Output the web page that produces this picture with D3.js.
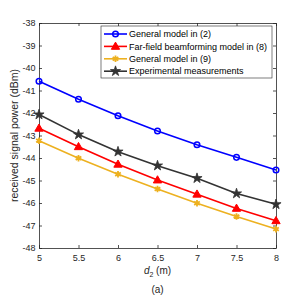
<!DOCTYPE html>
<html>
<head>
<meta charset="utf-8">
<script src="https://cdn.jsdelivr.net/npm/d3@7"></script>
<style>
  body { margin: 0; background: #fff; }
  text { font-family: "Liberation Sans", Arial, sans-serif; }
</style>
</head>
<body>
<div id="chart"></div>
<script>
// Data
var distances = [5, 5.5, 6, 6.5, 7, 7.5, 8];
var generalModel2 = [-40.59, -41.39, -42.12, -42.8, -43.41, -43.97, -44.53];
var farFieldModel8 = [-42.68, -43.5, -44.28, -44.98, -45.61, -46.24, -46.79];
var generalModel9 = [-43.23, -44.01, -44.72, -45.38, -46.01, -46.6, -47.16];
var measurements = [-42.07, -42.96, -43.72, -44.34, -44.9, -45.58, -46.06];
var seriesNames = ["General model in (2)", "Far-field beamforming model in (8)", "General model in (9)", "Experimental measurements"];
var xTickValues = [5, 5.5, 6, 6.5, 7, 7.5, 8];
var yTickValues = [-48, -47, -46, -45, -44, -43, -42, -41, -40, -39, -38];

var W = 306, H = 298;
var margin = { left: 39, top: 23, right: 30, bottom: 50 };
var width = 276 - 39, height = 248 - 23;

var series = [
  { name: seriesNames[0], values: generalModel2, color: "#0000ff", marker: "circle" },
  { name: seriesNames[1], values: farFieldModel8, color: "#ff0000", marker: "triangle" },
  { name: seriesNames[2], values: generalModel9, color: "#edb120", marker: "asterisk" },
  { name: seriesNames[3], values: measurements, color: "#333333", marker: "star" }
];

const svg = d3.select("#chart").append("svg")
  .attr("width", W).attr("height", H)
  .append("g")
  .attr("transform", `translate(${margin.left},${margin.top})`);

const xScale = d3.scaleLinear().domain([5, 8]).range([0, width]);
const yScale = d3.scaleLinear().domain([-48, -38]).range([height, 0]);

var axisColor = "#262626";

// box (top/right axes without labels)
svg.append("g").attr("transform", `translate(0,${height})`)
  .call(d3.axisBottom(xScale).tickValues(xTickValues).tickSize(-3).tickSizeOuter(0)
    .tickFormat(d => d).tickPadding(7));
svg.append("g")
  .call(d3.axisTop(xScale).tickValues(xTickValues).tickSize(-3).tickSizeOuter(0).tickFormat(""));
svg.append("g")
  .call(d3.axisLeft(yScale).tickValues(yTickValues).tickSize(-3).tickSizeOuter(0)
    .tickFormat(d => d).tickPadding(3.5));
svg.append("g").attr("transform", `translate(${width},0)`)
  .call(d3.axisRight(yScale).tickValues(yTickValues).tickSize(-3).tickSizeOuter(0).tickFormat(""));

svg.selectAll(".domain").attr("stroke", axisColor).attr("stroke-width", 0.8);
svg.selectAll(".tick line").attr("stroke", axisColor).attr("stroke-width", 0.8);
svg.selectAll(".tick text").attr("fill", axisColor).style("font-size", "9px")
  .style("font-family", "'Liberation Sans', Arial, sans-serif");

function drawMarker(g, type, color) {
  if (type === "circle") {
    g.append("circle").attr("r", 2.8).attr("fill", "none").attr("stroke", color).attr("stroke-width", 1.5);
  } else if (type === "triangle") {
    g.append("path").attr("d", d3.symbol(d3.symbolTriangle, 30)())
      .attr("transform", "translate(0,0.5)")
      .attr("fill", color).attr("stroke", color).attr("stroke-width", 1);
  } else if (type === "asterisk") {
    g.append("path").attr("d", d3.symbol(d3.symbolAsterisk, 30)())
      .attr("fill", "none").attr("stroke", color).attr("stroke-width", 1.8);
    g.append("circle").attr("r", 1.8).attr("fill", color);
  } else {
    g.append("path").attr("d", d3.symbol(d3.symbolStar, 32)())
      .attr("fill", color).attr("stroke", color).attr("stroke-width", 0.8);
  }
}

const line = d3.line()
  .x((d, i) => xScale(distances[i]))
  .y(d => yScale(d));

series.forEach(function (s) {
  svg.append("path")
    .attr("fill", "none")
    .attr("stroke", s.color)
    .attr("stroke-width", 1.6)
    .attr("d", line(s.values));
  s.values.forEach(function (v, i) {
    var g = svg.append("g").attr("transform", `translate(${xScale(distances[i])},${yScale(v)})`);
    drawMarker(g, s.marker, s.color);
  });
});

// Legend
var lx = 101 - margin.left, ly = 26 - margin.top;
var legend = svg.append("g").attr("transform", `translate(${lx},${ly})`);
legend.append("rect")
  .attr("width", 171).attr("height", 52)
  .attr("fill", "#fff").attr("stroke", "#262626").attr("stroke-width", 0.6);
series.forEach(function (s, i) {
  var y = 8 + i * 12.4;
  legend.append("line").attr("x1", 3).attr("x2", 26).attr("y1", y).attr("y2", y)
    .attr("stroke", s.color).attr("stroke-width", 1.6);
  var g = legend.append("g").attr("transform", `translate(14.5,${y})`);
  drawMarker(g, s.marker, s.color);
  legend.append("text").attr("x", 28).attr("y", y).attr("dy", "0.35em")
    .style("font-size", "9px").attr("fill", "#000").text(s.name);
});

// Axis labels
var xl = svg.append("text")
  .attr("x", width / 2).attr("y", height + 26)
  .style("text-anchor", "middle").style("font-size", "10px").attr("fill", axisColor);
xl.append("tspan").style("font-style", "italic").text("d");
xl.append("tspan").attr("dy", 3).style("font-size", "7px").text("2");
xl.append("tspan").attr("dy", -3).text(" (m)");

svg.append("text")
  .attr("x", width / 2).attr("y", height + 45)
  .style("text-anchor", "middle").style("font-size", "10px").attr("fill", axisColor)
  .text("(a)");

svg.append("text")
  .attr("x", -height / 2).attr("y", -21)
  .attr("transform", "rotate(-90)")
  .style("text-anchor", "middle").style("font-size", "10.5px").attr("fill", axisColor)
  .text("received signal power (dBm)");
</script>
</body>
</html>
